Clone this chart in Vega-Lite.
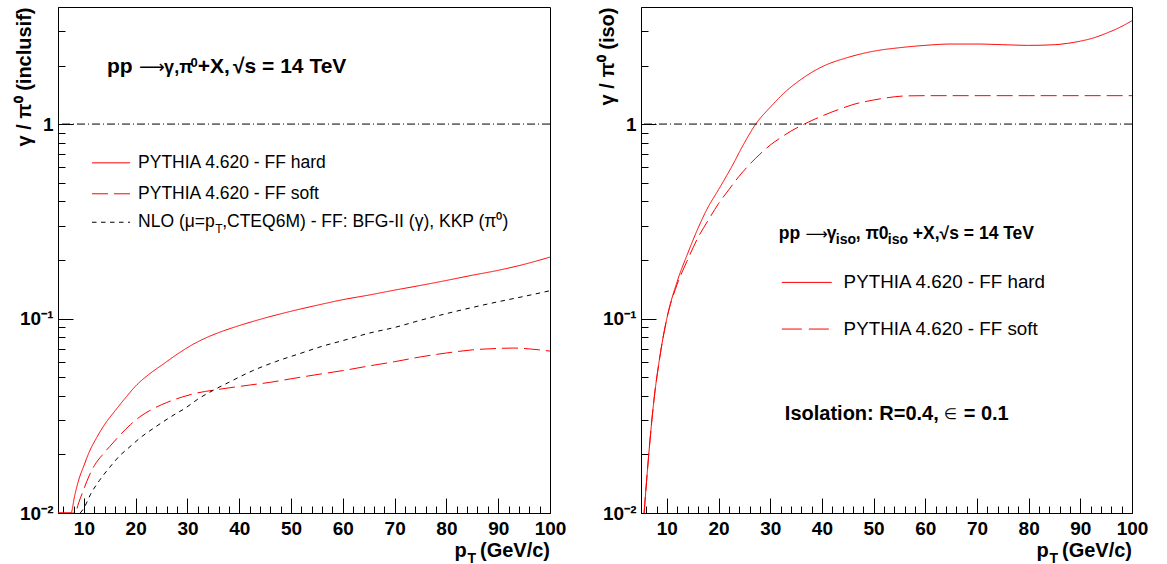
{
  "$schema": "https://vega.github.io/schema/vega-lite/v6.json",
  "padding": {"left": 14, "top": 6, "right": 0, "bottom": 0},
  "bounds": "flush",
  "spacing": 91,
  "background": "white",
  "config": {
    "view": {"stroke": "black", "strokeWidth": 1},
    "font": "Liberation Sans",
    "axis": {
      "domainColor": "black", "domainWidth": 1,
      "tickColor": "black", "tickWidth": 1,
      "labelFont": "Liberation Sans", "labelFontWeight": "bold", "labelFontSize": 19, "labelColor": "black",
      "titleFont": "Liberation Sans", "titleFontWeight": "bold", "titleFontSize": 20, "titleColor": "black",
      "grid": false, "labelOverlap": false, "labelFlush": false, "labelBound": false
    },
    "text": {"font": "Liberation Sans", "color": "black"}
  },
  "datasets": {
    "left": [
      {"pt": 5, "ratio": 0.01, "curve": "hard"},
      {"pt": 7.5, "ratio": 0.01, "curve": "hard"},
      {"pt": 8.2, "ratio": 0.0122, "curve": "hard"},
      {"pt": 9, "ratio": 0.0148, "curve": "hard"},
      {"pt": 10, "ratio": 0.0175, "curve": "hard"},
      {"pt": 11, "ratio": 0.0205, "curve": "hard"},
      {"pt": 12.5, "ratio": 0.0245, "curve": "hard"},
      {"pt": 14, "ratio": 0.0285, "curve": "hard"},
      {"pt": 16, "ratio": 0.0335, "curve": "hard"},
      {"pt": 18, "ratio": 0.039, "curve": "hard"},
      {"pt": 20, "ratio": 0.045, "curve": "hard"},
      {"pt": 22.5, "ratio": 0.0515, "curve": "hard"},
      {"pt": 25, "ratio": 0.0575, "curve": "hard"},
      {"pt": 28, "ratio": 0.0655, "curve": "hard"},
      {"pt": 31, "ratio": 0.0735, "curve": "hard"},
      {"pt": 34, "ratio": 0.0805, "curve": "hard"},
      {"pt": 37, "ratio": 0.0865, "curve": "hard"},
      {"pt": 40, "ratio": 0.092, "curve": "hard"},
      {"pt": 44, "ratio": 0.099, "curve": "hard"},
      {"pt": 50, "ratio": 0.109, "curve": "hard"},
      {"pt": 55, "ratio": 0.117, "curve": "hard"},
      {"pt": 60, "ratio": 0.125, "curve": "hard"},
      {"pt": 65, "ratio": 0.132, "curve": "hard"},
      {"pt": 70, "ratio": 0.14, "curve": "hard"},
      {"pt": 75, "ratio": 0.148, "curve": "hard"},
      {"pt": 80, "ratio": 0.157, "curve": "hard"},
      {"pt": 85, "ratio": 0.167, "curve": "hard"},
      {"pt": 90, "ratio": 0.177, "curve": "hard"},
      {"pt": 95, "ratio": 0.19, "curve": "hard"},
      {"pt": 100, "ratio": 0.207, "curve": "hard"},
      {"pt": 5, "ratio": 0.01, "curve": "soft"},
      {"pt": 8.3, "ratio": 0.01, "curve": "soft"},
      {"pt": 9, "ratio": 0.0113, "curve": "soft"},
      {"pt": 10, "ratio": 0.0133, "curve": "soft"},
      {"pt": 11, "ratio": 0.0155, "curve": "soft"},
      {"pt": 12, "ratio": 0.0175, "curve": "soft"},
      {"pt": 13.5, "ratio": 0.0198, "curve": "soft"},
      {"pt": 15, "ratio": 0.022, "curve": "soft"},
      {"pt": 17, "ratio": 0.0252, "curve": "soft"},
      {"pt": 19, "ratio": 0.0285, "curve": "soft"},
      {"pt": 21, "ratio": 0.0315, "curve": "soft"},
      {"pt": 23.5, "ratio": 0.0345, "curve": "soft"},
      {"pt": 26, "ratio": 0.037, "curve": "soft"},
      {"pt": 29, "ratio": 0.0395, "curve": "soft"},
      {"pt": 32, "ratio": 0.0415, "curve": "soft"},
      {"pt": 35, "ratio": 0.0428, "curve": "soft"},
      {"pt": 38, "ratio": 0.044, "curve": "soft"},
      {"pt": 42, "ratio": 0.0455, "curve": "soft"},
      {"pt": 46, "ratio": 0.047, "curve": "soft"},
      {"pt": 50, "ratio": 0.049, "curve": "soft"},
      {"pt": 55, "ratio": 0.0515, "curve": "soft"},
      {"pt": 60, "ratio": 0.054, "curve": "soft"},
      {"pt": 65, "ratio": 0.057, "curve": "soft"},
      {"pt": 70, "ratio": 0.06, "curve": "soft"},
      {"pt": 75, "ratio": 0.0635, "curve": "soft"},
      {"pt": 80, "ratio": 0.0665, "curve": "soft"},
      {"pt": 85, "ratio": 0.069, "curve": "soft"},
      {"pt": 90, "ratio": 0.0702, "curve": "soft"},
      {"pt": 93, "ratio": 0.0705, "curve": "soft"},
      {"pt": 96, "ratio": 0.0698, "curve": "soft"},
      {"pt": 100, "ratio": 0.068, "curve": "soft"},
      {"pt": 9.3, "ratio": 0.01, "curve": "nlo"},
      {"pt": 10, "ratio": 0.0106, "curve": "nlo"},
      {"pt": 11.3, "ratio": 0.0125, "curve": "nlo"},
      {"pt": 13, "ratio": 0.0147, "curve": "nlo"},
      {"pt": 15, "ratio": 0.0172, "curve": "nlo"},
      {"pt": 17, "ratio": 0.0198, "curve": "nlo"},
      {"pt": 18.7, "ratio": 0.0217, "curve": "nlo"},
      {"pt": 21, "ratio": 0.0245, "curve": "nlo"},
      {"pt": 23.9, "ratio": 0.0278, "curve": "nlo"},
      {"pt": 27, "ratio": 0.0315, "curve": "nlo"},
      {"pt": 29.7, "ratio": 0.0348, "curve": "nlo"},
      {"pt": 32, "ratio": 0.0385, "curve": "nlo"},
      {"pt": 34.8, "ratio": 0.0425, "curve": "nlo"},
      {"pt": 38, "ratio": 0.047, "curve": "nlo"},
      {"pt": 42.5, "ratio": 0.0538, "curve": "nlo"},
      {"pt": 47, "ratio": 0.06, "curve": "nlo"},
      {"pt": 51.6, "ratio": 0.0659, "curve": "nlo"},
      {"pt": 56, "ratio": 0.072, "curve": "nlo"},
      {"pt": 60, "ratio": 0.077, "curve": "nlo"},
      {"pt": 65, "ratio": 0.084, "curve": "nlo"},
      {"pt": 70, "ratio": 0.09, "curve": "nlo"},
      {"pt": 75, "ratio": 0.098, "curve": "nlo"},
      {"pt": 80, "ratio": 0.106, "curve": "nlo"},
      {"pt": 85, "ratio": 0.114, "curve": "nlo"},
      {"pt": 90, "ratio": 0.122, "curve": "nlo"},
      {"pt": 95, "ratio": 0.13, "curve": "nlo"},
      {"pt": 100, "ratio": 0.139, "curve": "nlo"}
    ],
    "right": [
      {"pt": 5.6, "ratio": 0.01, "curve": "hard"},
      {"pt": 6.5, "ratio": 0.02, "curve": "hard"},
      {"pt": 7.5, "ratio": 0.038, "curve": "hard"},
      {"pt": 8.5, "ratio": 0.06, "curve": "hard"},
      {"pt": 10, "ratio": 0.1, "curve": "hard"},
      {"pt": 12, "ratio": 0.155, "curve": "hard"},
      {"pt": 14, "ratio": 0.215, "curve": "hard"},
      {"pt": 16, "ratio": 0.29, "curve": "hard"},
      {"pt": 18, "ratio": 0.375, "curve": "hard"},
      {"pt": 20, "ratio": 0.46, "curve": "hard"},
      {"pt": 22.5, "ratio": 0.6, "curve": "hard"},
      {"pt": 25, "ratio": 0.8, "curve": "hard"},
      {"pt": 27.2, "ratio": 1.0, "curve": "hard"},
      {"pt": 30, "ratio": 1.22, "curve": "hard"},
      {"pt": 33, "ratio": 1.47, "curve": "hard"},
      {"pt": 36, "ratio": 1.7, "curve": "hard"},
      {"pt": 40, "ratio": 1.97, "curve": "hard"},
      {"pt": 45, "ratio": 2.2, "curve": "hard"},
      {"pt": 50, "ratio": 2.37, "curve": "hard"},
      {"pt": 55, "ratio": 2.47, "curve": "hard"},
      {"pt": 60, "ratio": 2.54, "curve": "hard"},
      {"pt": 65, "ratio": 2.58, "curve": "hard"},
      {"pt": 70, "ratio": 2.58, "curve": "hard"},
      {"pt": 75, "ratio": 2.56, "curve": "hard"},
      {"pt": 80, "ratio": 2.54, "curve": "hard"},
      {"pt": 85, "ratio": 2.56, "curve": "hard"},
      {"pt": 87.5, "ratio": 2.6, "curve": "hard"},
      {"pt": 90, "ratio": 2.67, "curve": "hard"},
      {"pt": 92.5, "ratio": 2.77, "curve": "hard"},
      {"pt": 95, "ratio": 2.93, "curve": "hard"},
      {"pt": 97.5, "ratio": 3.13, "curve": "hard"},
      {"pt": 100, "ratio": 3.4, "curve": "hard"},
      {"pt": 5.6, "ratio": 0.01, "curve": "soft"},
      {"pt": 6.5, "ratio": 0.02, "curve": "soft"},
      {"pt": 7.5, "ratio": 0.038, "curve": "soft"},
      {"pt": 8.5, "ratio": 0.06, "curve": "soft"},
      {"pt": 10, "ratio": 0.1, "curve": "soft"},
      {"pt": 12, "ratio": 0.15, "curve": "soft"},
      {"pt": 14, "ratio": 0.2, "curve": "soft"},
      {"pt": 16, "ratio": 0.26, "curve": "soft"},
      {"pt": 18, "ratio": 0.32, "curve": "soft"},
      {"pt": 20, "ratio": 0.39, "curve": "soft"},
      {"pt": 22, "ratio": 0.46, "curve": "soft"},
      {"pt": 24, "ratio": 0.54, "curve": "soft"},
      {"pt": 26, "ratio": 0.62, "curve": "soft"},
      {"pt": 28, "ratio": 0.7, "curve": "soft"},
      {"pt": 30, "ratio": 0.78, "curve": "soft"},
      {"pt": 32, "ratio": 0.85, "curve": "soft"},
      {"pt": 34, "ratio": 0.92, "curve": "soft"},
      {"pt": 36.6, "ratio": 1.0, "curve": "soft"},
      {"pt": 40, "ratio": 1.1, "curve": "soft"},
      {"pt": 43.3, "ratio": 1.19, "curve": "soft"},
      {"pt": 46, "ratio": 1.26, "curve": "soft"},
      {"pt": 50, "ratio": 1.33, "curve": "soft"},
      {"pt": 53, "ratio": 1.37, "curve": "soft"},
      {"pt": 56, "ratio": 1.395, "curve": "soft"},
      {"pt": 60, "ratio": 1.4, "curve": "soft"},
      {"pt": 70, "ratio": 1.4, "curve": "soft"},
      {"pt": 80, "ratio": 1.4, "curve": "soft"},
      {"pt": 90, "ratio": 1.4, "curve": "soft"},
      {"pt": 100, "ratio": 1.4, "curve": "soft"}
    ]
  },
  "hconcat": [
    {
      "width": 492,
      "height": 506,
      "data": {"values": [{"one": 1}]},
      "resolve": {"axis": {"x": "independent", "y": "independent"}},
      "layer": [
        {
          "layer": [
            {
              "data": {"name": "left"},
              "mark": {"type": "line", "strokeWidth": 1, "interpolate": "monotone", "clip": true},
              "encoding": {
                "x": {"field": "pt", "type": "quantitative",
                  "scale": {"domain": [5, 100], "nice": false, "zero": false},
                  "axis": {"values": [10,20,30,40,50,60,70,80,90,100], "format": "d", "orient": "bottom",
                    "labelOverlap": false, "labelFlush": false, "tickSize": -15, "labelPadding": 21, "title": null}},
                "y": {"field": "ratio", "type": "quantitative",
                  "scale": {"type": "log", "domain": [0.01, 4], "nice": false},
                  "axis": {"values": [0.01, 0.1, 1], "orient": "left",
                    "labelExpr": "datum.value === 1 ? '1' : (datum.value === 0.1 ? '10⁻¹' : '10⁻²')",
                    "labelOverlap": false, "labelFlush": false, "tickSize": -15, "labelPadding": 20,
                    "title": "γ / π⁰ (inclusif)", "titleAnchor": "end", "titlePadding": -15}},
                "color": {"field": "curve", "type": "nominal", "scale": {"domain": ["hard", "soft", "nlo"], "range": ["#ff0000", "#ff0000", "#000000"]}, "legend": null},
                "strokeDash": {"field": "curve", "type": "nominal", "scale": {"domain": ["hard", "soft", "nlo"], "range": [[1, 0], [16, 6], [4.5, 4.5]]}, "legend": null}
              }
            },
            {"mark": {"type": "rule", "color": "black", "strokeWidth": 1, "strokeDash": [8, 3, 1, 3]}, "encoding": {"y": {"datum": 1}}},
            {"mark": {"type": "rule", "color": "#ff0000", "strokeWidth": 1}, "encoding": {"x": {"datum": 11.57}, "x2": {"datum": 18.92}, "y": {"datum": 0.632}}},
            {"mark": {"type": "rule", "color": "#ff0000", "strokeWidth": 1, "strokeDash": [16, 6]}, "encoding": {"x": {"datum": 11.57}, "x2": {"datum": 18.92}, "y": {"datum": 0.438}}},
            {"mark": {"type": "rule", "color": "black", "strokeWidth": 1, "strokeDash": [4.5, 4.5]}, "encoding": {"x": {"datum": 11.57}, "x2": {"datum": 18.92}, "y": {"datum": 0.3127}}},
            {"mark": {"type": "text", "align": "left", "baseline": "alphabetic", "fontSize": 21, "fontWeight": "bold"}, "encoding": {"x": {"datum": 14.47}, "y": {"datum": 1.836}, "text": {"value": "pp"}}},
            {"mark": {"type": "text", "align": "left", "baseline": "alphabetic", "fontSize": 18, "font": "DejaVu Sans"}, "encoding": {"x": {"datum": 20.66}, "y": {"datum": 1.836}, "text": {"value": "⟶"}}},
            {"mark": {"type": "text", "align": "left", "baseline": "alphabetic", "fontSize": 18, "fontWeight": "bold"}, "encoding": {"x": {"datum": 25.49}, "y": {"datum": 1.836}, "text": {"value": "γ,π"}}},
            {"mark": {"type": "text", "align": "left", "baseline": "alphabetic", "fontSize": 13, "fontWeight": "bold"}, "encoding": {"x": {"datum": 30.6}, "y": {"datum": 1.97}, "text": {"value": "0"}}},
            {"mark": {"type": "text", "align": "left", "baseline": "alphabetic", "fontSize": 21, "fontWeight": "bold"}, "encoding": {"x": {"datum": 31.97}, "y": {"datum": 1.836}, "text": {"value": "+X,"}}},
            {"mark": {"type": "text", "align": "left", "baseline": "alphabetic", "fontSize": 21, "fontWeight": "bold"}, "encoding": {"x": {"datum": 38.8}, "y": {"datum": 1.836}, "text": {"value": "√s = 14 TeV"}}},
            {"mark": {"type": "text", "align": "left", "baseline": "middle", "fontSize": 17.5}, "encoding": {"x": {"datum": 20.46}, "y": {"datum": 0.632}, "text": {"value": "PYTHIA 4.620 - FF hard"}}},
            {"mark": {"type": "text", "align": "left", "baseline": "middle", "fontSize": 17.5}, "encoding": {"x": {"datum": 20.46}, "y": {"datum": 0.438}, "text": {"value": "PYTHIA 4.620 - FF soft"}}},
            {"mark": {"type": "text", "align": "left", "baseline": "middle", "fontSize": 17.5}, "encoding": {"x": {"datum": 20.46}, "y": {"datum": 0.3127}, "text": {"value": "NLO (μ=p"}}},
            {"mark": {"type": "text", "align": "left", "baseline": "middle", "fontSize": 12}, "encoding": {"x": {"datum": 35.34}, "y": {"datum": 0.2896}, "text": {"value": "T"}}},
            {"mark": {"type": "text", "align": "left", "baseline": "middle", "fontSize": 17.5}, "encoding": {"x": {"datum": 36.7}, "y": {"datum": 0.3127}, "text": {"value": ",CTEQ6M) - FF: BFG-II (γ), KKP (π⁰)"}}},
            {"mark": {"type": "text", "align": "left", "baseline": "alphabetic", "fontSize": 20, "fontWeight": "bold"}, "encoding": {"x": {"datum": 81.54}, "y": {"datum": 0.00596}, "text": {"value": "p"}}},
            {"mark": {"type": "text", "align": "left", "baseline": "alphabetic", "fontSize": 14, "fontWeight": "bold"}, "encoding": {"x": {"datum": 84.05}, "y": {"datum": 0.00555}, "text": {"value": "T"}}},
            {"mark": {"type": "text", "align": "right", "baseline": "alphabetic", "fontSize": 20, "fontWeight": "bold"}, "encoding": {"x": {"datum": 100}, "y": {"datum": 0.00596}, "text": {"value": "(GeV/c)"}}}
          ]
        },
        {
          "mark": {"type": "point", "opacity": 0},
          "encoding": {
            "x": {"datum": 50, "type": "quantitative",
              "axis": {"orient": "bottom", "values": [6,8,12,14,16,18,22,24,26,28,32,34,36,38,42,44,46,48,52,54,56,58,62,64,66,68,72,74,76,78,82,84,86,88,92,94,96,98],
                "labels": false, "domain": false, "tickSize": -7, "title": null}},
            "y": {"datum": 1, "type": "quantitative",
              "axis": {"orient": "left", "values": [0.02,0.03,0.04,0.05,0.06,0.07,0.08,0.09,0.2,0.3,0.4,0.5,0.6,0.7,0.8,0.9,2,3],
                "labels": false, "domain": false, "tickSize": -7, "title": null}}
          }
        }
      ]
    },
    {
      "width": 491,
      "height": 506,
      "data": {"values": [{"one": 1}]},
      "resolve": {"axis": {"x": "independent", "y": "independent"}},
      "layer": [
        {
          "layer": [
            {
              "data": {"name": "right"},
              "mark": {"type": "line", "strokeWidth": 1, "interpolate": "monotone", "clip": true},
              "encoding": {
                "x": {"field": "pt", "type": "quantitative",
                  "scale": {"domain": [5, 100], "nice": false, "zero": false},
                  "axis": {"values": [10,20,30,40,50,60,70,80,90,100], "format": "d", "orient": "bottom",
                    "labelOverlap": false, "labelFlush": false, "tickSize": -15, "labelPadding": 21, "title": null}},
                "y": {"field": "ratio", "type": "quantitative",
                  "scale": {"type": "log", "domain": [0.01, 4], "nice": false},
                  "axis": {"values": [0.01, 0.1, 1], "orient": "left",
                    "labelExpr": "datum.value === 1 ? '1' : (datum.value === 0.1 ? '10⁻¹' : '10⁻²')",
                    "labelOverlap": false, "labelFlush": false, "tickSize": -15, "labelPadding": 20,
                    "title": "γ / π⁰ (iso)", "titleAnchor": "end", "titlePadding": -15}},
                "color": {"field": "curve", "type": "nominal", "scale": {"domain": ["hard", "soft"], "range": ["#ff0000", "#ff0000"]}, "legend": null},
                "strokeDash": {"field": "curve", "type": "nominal", "scale": {"domain": ["hard", "soft"], "range": [[1, 0], [20, 7]]}, "legend": null}
              }
            },
            {"mark": {"type": "rule", "color": "black", "strokeWidth": 1, "strokeDash": [8, 3, 1, 3]}, "encoding": {"y": {"datum": 1}}},
            {"mark": {"type": "text", "align": "left", "baseline": "alphabetic", "fontSize": 17.5, "fontWeight": "bold"}, "encoding": {"x": {"datum": 31.67}, "y": {"datum": 0.2572}, "text": {"value": "pp"}}},
            {"mark": {"type": "text", "align": "left", "baseline": "alphabetic", "fontSize": 15.5, "font": "DejaVu Sans"}, "encoding": {"x": {"datum": 36.83}, "y": {"datum": 0.2572}, "text": {"value": "⟶"}}},
            {"mark": {"type": "text", "align": "left", "baseline": "alphabetic", "fontSize": 17.5, "fontWeight": "bold"}, "encoding": {"x": {"datum": 40.95}, "y": {"datum": 0.2572}, "text": {"value": "γ"}}},
            {"mark": {"type": "text", "align": "left", "baseline": "alphabetic", "fontSize": 14, "fontWeight": "bold"}, "encoding": {"x": {"datum": 42.69}, "y": {"datum": 0.2416}, "text": {"value": "iso"}}},
            {"mark": {"type": "text", "align": "left", "baseline": "alphabetic", "fontSize": 17.5, "fontWeight": "bold"}, "encoding": {"x": {"datum": 46.55}, "y": {"datum": 0.2572}, "text": {"value": ", π0"}}},
            {"mark": {"type": "text", "align": "left", "baseline": "alphabetic", "fontSize": 14, "fontWeight": "bold"}, "encoding": {"x": {"datum": 52.74}, "y": {"datum": 0.2416}, "text": {"value": "iso"}}},
            {"mark": {"type": "text", "align": "left", "baseline": "alphabetic", "fontSize": 17.5, "fontWeight": "bold"}, "encoding": {"x": {"datum": 57.6}, "y": {"datum": 0.2572}, "text": {"value": "+X,√s = 14 TeV"}}},
            {"mark": {"type": "rule", "color": "#ff0000", "strokeWidth": 1}, "encoding": {"x": {"datum": 32.25}, "x2": {"datum": 41.9}, "y": {"datum": 0.1534}}},
            {"mark": {"type": "rule", "color": "#ff0000", "strokeWidth": 1, "strokeDash": [20, 7]}, "encoding": {"x": {"datum": 32.25}, "x2": {"datum": 41.9}, "y": {"datum": 0.0883}}},
            {"mark": {"type": "text", "align": "left", "baseline": "middle", "fontSize": 18.8}, "encoding": {"x": {"datum": 44.2}, "y": {"datum": 0.1534}, "text": {"value": "PYTHIA 4.620 - FF hard"}}},
            {"mark": {"type": "text", "align": "left", "baseline": "middle", "fontSize": 18.8}, "encoding": {"x": {"datum": 44.2}, "y": {"datum": 0.0883}, "text": {"value": "PYTHIA 4.620 - FF soft"}}},
            {"mark": {"type": "text", "align": "left", "baseline": "middle", "fontSize": 20, "fontWeight": "bold"}, "encoding": {"x": {"datum": 32.83}, "y": {"datum": 0.0324}, "text": {"value": "Isolation: R=0.4,"}}},
            {"mark": {"type": "text", "align": "left", "baseline": "middle", "fontSize": 15, "font": "DejaVu Sans"}, "encoding": {"x": {"datum": 63.56}, "y": {"datum": 0.0324}, "text": {"value": "∈"}}},
            {"mark": {"type": "text", "align": "left", "baseline": "middle", "fontSize": 20, "fontWeight": "bold"}, "encoding": {"x": {"datum": 67.43}, "y": {"datum": 0.0324}, "text": {"value": "= 0.1"}}},
            {"mark": {"type": "text", "align": "left", "baseline": "alphabetic", "fontSize": 20, "fontWeight": "bold"}, "encoding": {"x": {"datum": 81.54}, "y": {"datum": 0.00596}, "text": {"value": "p"}}},
            {"mark": {"type": "text", "align": "left", "baseline": "alphabetic", "fontSize": 14, "fontWeight": "bold"}, "encoding": {"x": {"datum": 84.05}, "y": {"datum": 0.00555}, "text": {"value": "T"}}},
            {"mark": {"type": "text", "align": "right", "baseline": "alphabetic", "fontSize": 20, "fontWeight": "bold"}, "encoding": {"x": {"datum": 100}, "y": {"datum": 0.00596}, "text": {"value": "(GeV/c)"}}}
          ]
        },
        {
          "mark": {"type": "point", "opacity": 0},
          "encoding": {
            "x": {"datum": 50, "type": "quantitative",
              "axis": {"orient": "bottom", "values": [6,8,12,14,16,18,22,24,26,28,32,34,36,38,42,44,46,48,52,54,56,58,62,64,66,68,72,74,76,78,82,84,86,88,92,94,96,98],
                "labels": false, "domain": false, "tickSize": -7, "title": null}},
            "y": {"datum": 1, "type": "quantitative",
              "axis": {"orient": "left", "values": [0.02,0.03,0.04,0.05,0.06,0.07,0.08,0.09,0.2,0.3,0.4,0.5,0.6,0.7,0.8,0.9,2,3],
                "labels": false, "domain": false, "tickSize": -7, "title": null}}
          }
        }
      ]
    }
  ]
}
